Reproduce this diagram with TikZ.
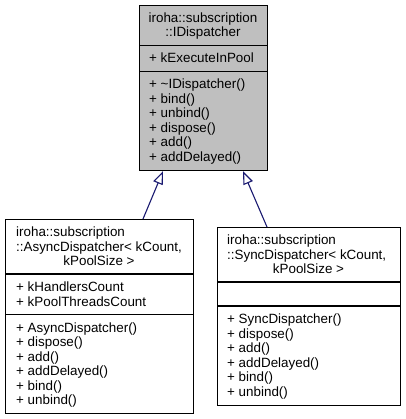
\documentclass[tikz,border=0pt]{standalone}
\usepackage{fontspec}
\setmainfont{Liberation Sans}
\usetikzlibrary{arrows.meta}
\definecolor{edgeblue}{HTML}{191970}
\definecolor{basegray}{HTML}{BFBFBF}
\tikzset{
  classbox/.style={draw=black, line width=1.2pt, anchor=north west, inner sep=0pt},
  member/.style={anchor=west, inner sep=0pt, text height=10pt, text depth=1pt,
    font=\fontsize{13.4}{14.5}\selectfont},
  ctitle/.style={member, anchor=center},
  inherit/.style={draw=edgeblue, line width=1.1pt,
    -{Triangle[length=13pt, width=10pt, fill=white]}}
}
\begin{document}
\begin{tikzpicture}[x=1pt, y=-1pt]
\useasboundingbox (0,0) rectangle (405,419);

% base class
\node[classbox, fill=basegray, minimum width=128pt, minimum height=165pt] (base) at (139,5) {};
\draw[line width=1.2pt] ([yshift=-40.5pt]base.north west) -- ([yshift=-40.5pt]base.north east);
\draw[line width=1.2pt] ([yshift=-66.5pt]base.north west) -- ([yshift=-66.5pt]base.north east);
\node[ctitle] (baseT1) at (203,18) {iroha::subscription};
\node[ctitle] (baseT2) at (203,32.5) {::IDispatcher};
\node[member] (baseA1) at (149,58.5) {+ kExecuteInPool};
\foreach \m [count=\i from 0] in {+ \textasciitilde IDispatcher(), + bind(), + unbind(), + dispose(), + add(), + addDelayed()}
  \node[member] (baseM\i) at (149,84.5+14.5*\i) {\m};

% async dispatcher
\node[classbox, fill=white, minimum width=188pt, minimum height=194pt] (async) at (5,219) {};
\draw[line width=1.2pt] ([yshift=-55pt]async.north west) -- ([yshift=-55pt]async.north east);
\draw[line width=1.2pt] ([yshift=-95.5pt]async.north west) -- ([yshift=-95.5pt]async.north east);
\node[member] (asyncT1) at (16,232) {iroha::subscription};
\node[member] (asyncT2) at (16,246.5) {::AsyncDispatcher< kCount,};
\node[ctitle] (asyncT3) at (99,261) {kPoolSize >};
\node[member] (asyncA1) at (16,287) {+ kHandlersCount};
\node[member] (asyncA2) at (16,301.5) {+ kPoolThreadsCount};
\foreach \m [count=\i from 0] in {+ AsyncDispatcher(), + dispose(), + add(), + addDelayed(), + bind(), + unbind()}
  \node[member] (asyncM\i) at (16,327.5+14.5*\i) {\m};

% sync dispatcher
\node[classbox, fill=white, minimum width=183pt, minimum height=177.5pt] (sync) at (217,227) {};
\draw[line width=1.2pt] ([yshift=-55pt]sync.north west) -- ([yshift=-55pt]sync.north east);
\draw[line width=1.2pt] ([yshift=-79pt]sync.north west) -- ([yshift=-79pt]sync.north east);
\node[member] (syncT1) at (227,240) {iroha::subscription};
\node[member] (syncT2) at (227,254.5) {::SyncDispatcher< kCount,};
\node[ctitle] (syncT3) at (308.5,269) {kPoolSize >};
\foreach \m [count=\i from 0] in {+ SyncDispatcher(), + dispose(), + add(), + addDelayed(), + bind(), + unbind()}
  \node[member] (syncM\i) at (227,319+14.5*\i) {\m};

% inheritance
\draw[inherit] ([xshift=138pt]async.north west) -- ([xshift=24pt]base.south west);
\draw[inherit] ([xshift=50pt]sync.north west) -- ([xshift=104pt]base.south west);
\end{tikzpicture}
\end{document}
